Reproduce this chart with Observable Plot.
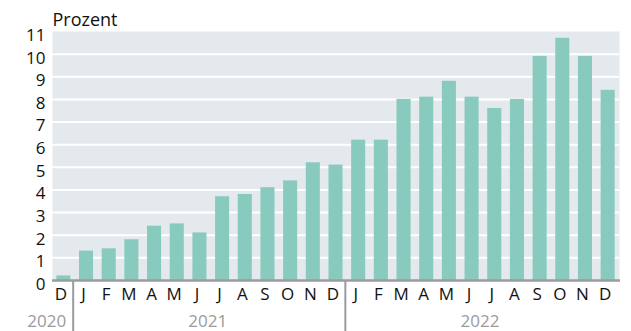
<!DOCTYPE html>
<html><head><meta charset="utf-8">
<script src="https://cdn.jsdelivr.net/npm/d3@7"></script>
<script src="https://cdn.jsdelivr.net/npm/@observablehq/plot@0.6"></script>
<style>html,body{margin:0;padding:0;background:#fff;overflow:hidden} #chart svg{display:block}</style>
</head><body><div id="chart"></div>
<script>
const months = ["2020-12","2021-01","2021-02","2021-03","2021-04","2021-05","2021-06","2021-07","2021-08","2021-09","2021-10","2021-11","2021-12","2022-01","2022-02","2022-03","2022-04","2022-05","2022-06","2022-07","2022-08","2022-09","2022-10","2022-11","2022-12"];
const monthLabels = ["D","J","F","M","A","M","J","J","A","S","O","N","D","J","F","M","A","M","J","J","A","S","O","N","D"];
const values = [0.2,1.3,1.4,1.8,2.4,2.5,2.1,3.7,3.8,4.1,4.4,5.2,5.1,6.2,6.2,8.0,8.1,8.8,8.1,7.6,8.0,9.9,10.7,9.9,8.4];
const yTicks = [0,1,2,3,4,5,6,7,8,9,10,11];
const years = ["2020","2021","2022"];
const yearFirst = ["2020-12","2021-01","2022-01"];
const yearLast = ["2020-12","2021-12","2022-12"];
const yLabel = "Prozent";

const data = months.map((m, i) => ({month: m, value: values[i]}));
const gridTicks = yTicks.slice(1, -1);
const FONT = "'Open Sans', 'Noto Sans', sans-serif";

function yearLayer(index, scales, vals, dim) {
  const x = scales.x;
  const step = x(months[1]) - x(months[0]);
  const bw = typeof x.bandwidth === "function" ? x.bandwidth() : (x.bandwidth ?? step * 0.62);
  const gap = step - bw;
  const bottom = dim.height - dim.marginBottom;
  const g = d3.create("svg:g");
  for (let k = 1; k < yearFirst.length; k++) {
    const sx = x(yearFirst[k]) - gap / 2 - 1.5;
    g.append("line").attr("x1", sx).attr("x2", sx)
      .attr("y1", bottom + 1).attr("y2", dim.height)
      .attr("stroke", "#9b9b9b").attr("stroke-width", 2);
  }
  years.forEach((yr, k) => {
    const x1 = x(yearFirst[k]), x2 = x(yearLast[k]) + bw;
    const t = g.append("text").text(yr)
      .attr("y", dim.height - 4)
      .attr("fill", "#9b9b9b")
      .attr("font-family", FONT).attr("font-size", 17);
    if (yearFirst[k] === yearLast[k]) {
      const sx = x(yearFirst[k + 1]) - gap / 2 - 1.5;
      t.attr("x", sx - 7).attr("text-anchor", "end");
    } else {
      t.attr("x", (x1 + x2) / 2 - 3).attr("text-anchor", "middle");
    }
  });
  return g.node();
}

const chart = Plot.plot({
  width: 631,
  height: 331,
  marginTop: 31,
  marginBottom: 51,
  marginLeft: 52,
  marginRight: 12,
  style: {fontFamily: FONT, fontSize: "17px", color: "#111", background: "#fff"},
  x: {domain: months, paddingInner: 0.38, paddingOuter: 0.19, round: false, label: null},
  y: {domain: [0, 11], label: null},
  marks: [
    Plot.frame({fill: "#e4e9ed", stroke: null}),
    Plot.ruleY(gridTicks, {stroke: "#fff", strokeWidth: 2}),
    Plot.barY(data, {x: "month", y: "value", fill: "#89cabe"}),
    Plot.ruleY([0], {stroke: "#9b9b9b", strokeWidth: 2.5, insetRight: -1}),
    Plot.axisY(yTicks, {tickSize: 0, tickPadding: 7, dy: 4, label: null, fill: "#111"}),
    Plot.axisX({tickSize: 0, tickPadding: 7, dx: -3, label: null, fill: "#111",
      tickFormat: d => monthLabels[months.indexOf(d)]}),
    Plot.text([yLabel], {frameAnchor: "top-left", textAnchor: "start", lineAnchor: "bottom", dy: -6, fontSize: 18, fill: "#111"}),
    yearLayer
  ]
});
document.getElementById("chart").appendChild(chart);
</script>
</body></html>
